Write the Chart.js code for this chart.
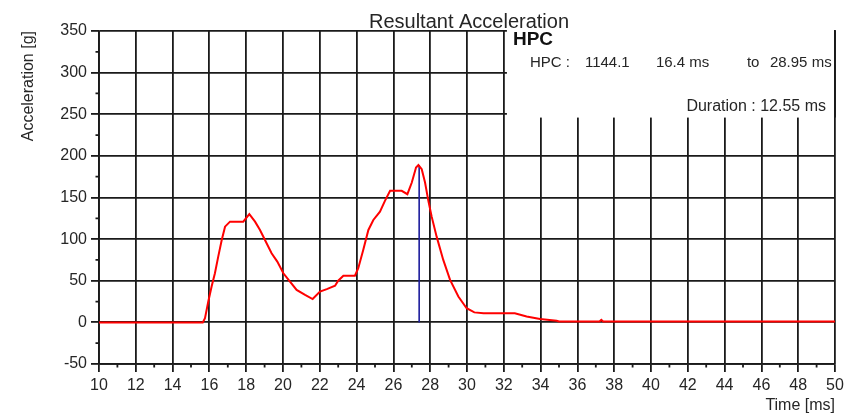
<!DOCTYPE html>
<html>
<head>
<meta charset="utf-8"/>
<script src="https://cdn.jsdelivr.net/npm/chart.js@4.4.0/dist/chart.umd.min.js"></script>
<style>
body { margin: 0; background: #fff; }
</style>
</head>
<body>
<canvas id="c" width="845" height="415"></canvas>
<script>
// resultant acceleration trace
var times = [10, 15.64, 15.76, 15.94, 16.12, 16.3, 16.48, 16.67, 16.85, 17.12, 17.84, 18.17, 18.48, 18.75,
  19.02, 19.38, 19.69, 20.02, 20.38, 20.74, 21.2, 21.61, 22.01, 22.38, 22.83, 23.0, 23.28, 23.91, 24.09,
  24.36, 24.64, 24.91, 25.27, 25.54, 25.82, 26.45, 26.76, 27.0, 27.23, 27.36, 27.54, 27.72, 27.9, 28.08,
  28.35, 28.71, 29.08, 29.53, 29.98, 30.4, 30.9, 32.6, 33.24, 33.97, 34.87, 35.0, 37.2, 37.3, 37.4, 50];
var accel = [0, 0, 5, 25, 43, 59, 79, 99, 115, 121, 121, 130, 121, 111,
  99, 83, 73, 59, 49, 39, 33, 28, 37, 40, 44, 50, 56, 56, 65,
  87, 111, 123, 133, 146, 158, 158, 154, 168, 186, 189, 184, 168, 146, 127,
  103, 75, 51, 31, 17, 12, 11, 11, 7, 4, 2, 1, 1, 3, 1, 1];

// peak marker
var peakTime = [27.4, 27.4];
var peakAccel = [0, 189];

var hpcValue = '1144.1';
var hpcFrom = '16.4 ms';
var hpcTo = '28.95 ms';
var hpcDuration = '12.55 ms';

var gridColor = '#1a1a1a';
var textColor = '#262626';
var fontFam = '"Liberation Sans", Arial, sans-serif';

function toPoints(xs, ys) {
  return xs.map(function(x, i) { return {x: x, y: ys[i]}; });
}

var overlay = {
  id: 'overlay',
  afterDraw: function(chart) {
    var ctx = chart.ctx, a = chart.chartArea;
    var xs = chart.scales.x, ys = chart.scales.y;
    ctx.save();

    // minor ticks
    ctx.strokeStyle = gridColor;
    ctx.lineWidth = 1.8;
    ctx.beginPath();
    for (var v = 11; v < 50; v += 2) {
      var px = xs.getPixelForValue(v);
      ctx.moveTo(px, a.bottom);
      ctx.lineTo(px, a.bottom + 3.5);
    }
    for (var g = -25; g < 350; g += 50) {
      var py = ys.getPixelForValue(g);
      ctx.moveTo(a.left, py);
      ctx.lineTo(a.left - 3.5, py);
    }
    ctx.stroke();

    // title
    ctx.fillStyle = textColor;
    ctx.font = '20px ' + fontFam;
    ctx.textAlign = 'center';
    ctx.textBaseline = 'alphabetic';
    ctx.fillText('Resultant Acceleration', (a.left + a.right) / 2 + 2, 28);

    // HPC result box, covers the upper right of the grid
    var bx = xs.getPixelForValue(32.17);
    var by = ys.getPixelForValue(246);
    ctx.fillStyle = '#fff';
    ctx.fillRect(bx, a.top - 3, a.right - 1 - bx, by - a.top + 3);
    ctx.beginPath();
    ctx.moveTo(a.right, a.top - 1);
    ctx.lineTo(a.right, by);
    ctx.stroke();

    ctx.fillStyle = '#111';
    ctx.textAlign = 'left';
    ctx.font = 'bold 19px ' + fontFam;
    ctx.fillText('HPC', bx + 6, a.top + 14);
    ctx.fillStyle = textColor;
    ctx.font = '15px ' + fontFam;
    ctx.fillText('HPC :', bx + 23, a.top + 36);
    ctx.fillText(hpcValue, bx + 78, a.top + 36);
    ctx.fillText(hpcFrom, bx + 149, a.top + 36);
    ctx.fillText('to', bx + 240, a.top + 36);
    ctx.fillText(hpcTo, bx + 263, a.top + 36);
    ctx.font = '16px ' + fontFam;
    ctx.textAlign = 'right';
    ctx.fillText('Duration : ' + hpcDuration, a.right - 9, a.top + 80);
    ctx.restore();
  }
};

new Chart(document.getElementById('c'), {
  type: 'line',
  data: {
    datasets: [{
      data: toPoints(times, accel),
      borderColor: '#ff0000',
      borderWidth: 2,
      pointRadius: 0,
      tension: 0
    }, {
      data: toPoints(peakTime, peakAccel),
      borderColor: '#1c1c9c',
      borderWidth: 1.6,
      pointRadius: 0
    }]
  },
  options: {
    responsive: false,
    animation: false,
    layout: { padding: { left: 14, right: 10, top: 31, bottom: 0 } },
    plugins: { legend: { display: false }, tooltip: { enabled: false } },
    scales: {
      x: {
        type: 'linear',
        min: 10, max: 50,
        afterFit: function(s) { s.height = 51; s.paddingRight = 0; s.paddingLeft = 0; },
        ticks: { stepSize: 2, color: textColor, padding: 4, maxRotation: 0, autoSkip: false,
          font: { family: fontFam, size: 16 } },
        grid: { color: gridColor, lineWidth: 1.8, tickLength: 8, tickColor: gridColor },
        border: { color: gridColor, width: 1.8 },
        title: { display: true, text: 'Time [ms]', align: 'end', color: textColor,
          padding: { top: 0, bottom: 0 }, font: { family: fontFam, size: 16 } }
      },
      y: {
        min: -50, max: 350,
        afterFit: function(s) { s.width = 85; },
        ticks: { stepSize: 50, color: textColor, padding: 4,
          font: { family: fontFam, size: 16 } },
        grid: { color: gridColor, lineWidth: 1.8, tickLength: 8, tickColor: gridColor },
        border: { color: gridColor, width: 1.8 },
        title: { display: true, text: 'Acceleration [g]', align: 'end', color: textColor,
          padding: { top: 5, bottom: 0 }, font: { family: fontFam, size: 16 } }
      }
    }
  },
  plugins: [overlay]
});
</script>
</body>
</html>
